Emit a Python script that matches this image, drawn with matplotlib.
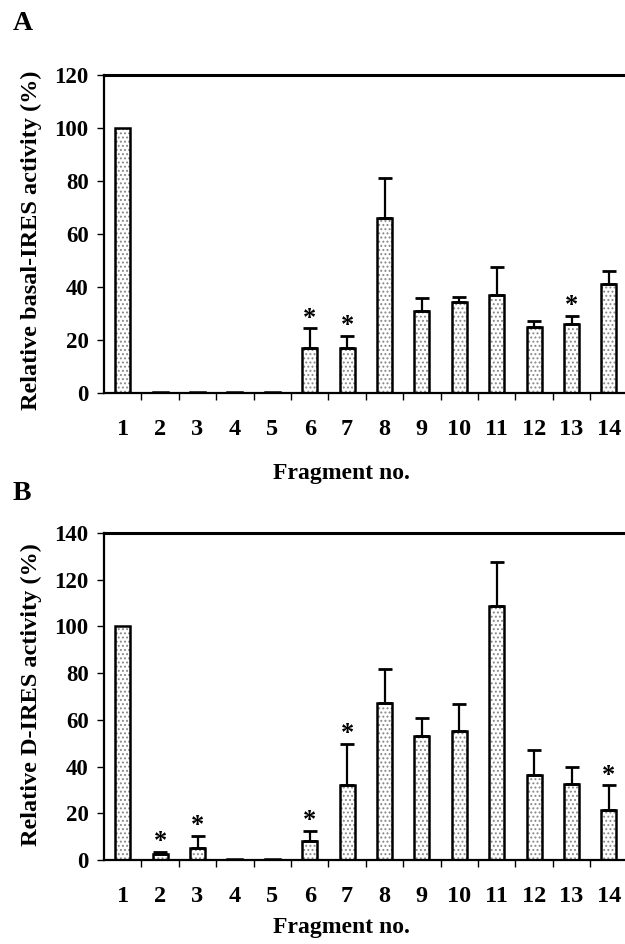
import matplotlib
matplotlib.use("Agg")
import matplotlib.pyplot as plt
import numpy as np

plt.rcParams['font.family'] = ['Liberation Serif', 'DejaVu Serif']
plt.rcParams['font.weight'] = 'bold'
plt.rcParams['hatch.linewidth'] = 0.9

W, H = 625, 944

fragments = list(range(1, 15))

# panel A: basal IRES activity
basal_mean = [100, 0.3, 0.3, 0.5, 0.5, 17, 17, 66, 31, 34.5, 37, 25, 26, 41]
basal_err = [0, 0, 0, 0, 0, 7.4, 4.5, 15, 5, 1.8, 10.7, 2.2, 3.2, 5]
basal_star = [6, 7, 13]

# panel B: D-IRES activity
dires_mean = [100, 2.6, 5.3, 0.5, 0.5, 8.3, 32.3, 67.3, 53.3, 55.1, 108.6, 36.6, 32.6, 21.4]
dires_err = [0, 0.8, 5.1, 0, 0, 4.3, 17.4, 14.6, 7.6, 11.5, 18.8, 10.3, 7.1, 10.6]
dires_star = [2, 3, 6, 7, 14]


def draw_panel(ax, mean, err, stars, ymax, ystep):
    x = np.array(fragments)
    mean = np.array(mean)
    err = np.array(err)
    # dotted fill, then black outline
    ax.bar(x, mean, width=0.4, color='white', edgecolor='#888888',
           hatch='....', linewidth=0, zorder=2)
    ax.bar(x, mean, width=0.4, color='none', edgecolor='black',
           linewidth=1.8, zorder=3)
    has = err > 0
    ax.errorbar(x[has], mean[has], yerr=[np.zeros(has.sum()), err[has]],
                fmt='none', ecolor='black', elinewidth=1.6, capsize=5,
                capthick=2, zorder=4)
    for s in stars:
        i = s - 1
        ax.annotate('*', (x[i], mean[i] + err[i]), xytext=(0, -1),
                    textcoords='offset points', ha='center', va='bottom',
                    fontsize=19, fontweight='bold')

    ax.set_xlim(0.5, 14.43)
    ax.set_ylim(0, ymax)
    ax.set_yticks(np.arange(0, ymax + 1, ystep))
    ax.set_xticks(x)
    ax.set_xticks(np.arange(1.5, 14.5, 1), minor=True)
    ax.tick_params(axis='x', which='major', length=0, pad=19, labelsize=17.5)
    ax.tick_params(axis='x', which='minor', length=5, width=1, direction='out')
    ax.tick_params(axis='y', length=5, width=1, direction='out', pad=6,
                   labelsize=16.5)
    ax.spines['right'].set_visible(False)
    ax.spines['left'].set_linewidth(1.6)
    ax.spines['bottom'].set_linewidth(1.6)
    ax.spines['top'].set_linewidth(2.2)


fig = plt.figure(figsize=(W / 100, H / 100), dpi=100)
axA = fig.add_axes([104 / W, 1 - 393 / H, 1 - 104 / W, 318 / H])
axB = fig.add_axes([104 / W, 1 - 860 / H, 1 - 104 / W, 327 / H])

draw_panel(axA, basal_mean, basal_err, basal_star, 120, 20)
draw_panel(axB, dires_mean, dires_err, dires_star, 140, 20)

fig.text(31 / W, 1 - 240 / H, 'Relative basal-IRES activity (%)', rotation=90,
         fontsize=17.5, ha='center', va='center')
fig.text(31 / W, 1 - 695 / H, 'Relative D-IRES activity (%)', rotation=90,
         fontsize=17.5, ha='center', va='center')
fig.text(341 / W, 1 - 473 / H, 'Fragment no.', fontsize=17, ha='center', va='center')
fig.text(341 / W, 1 - 928 / H, 'Fragment no.', fontsize=17, ha='center', va='center')

fig.text(13 / W, 1 - 24 / H, 'A', fontsize=20, va='center')
fig.text(13 / W, 1 - 493 / H, 'B', fontsize=20, va='center')

fig.savefig('out.png', dpi=100)
